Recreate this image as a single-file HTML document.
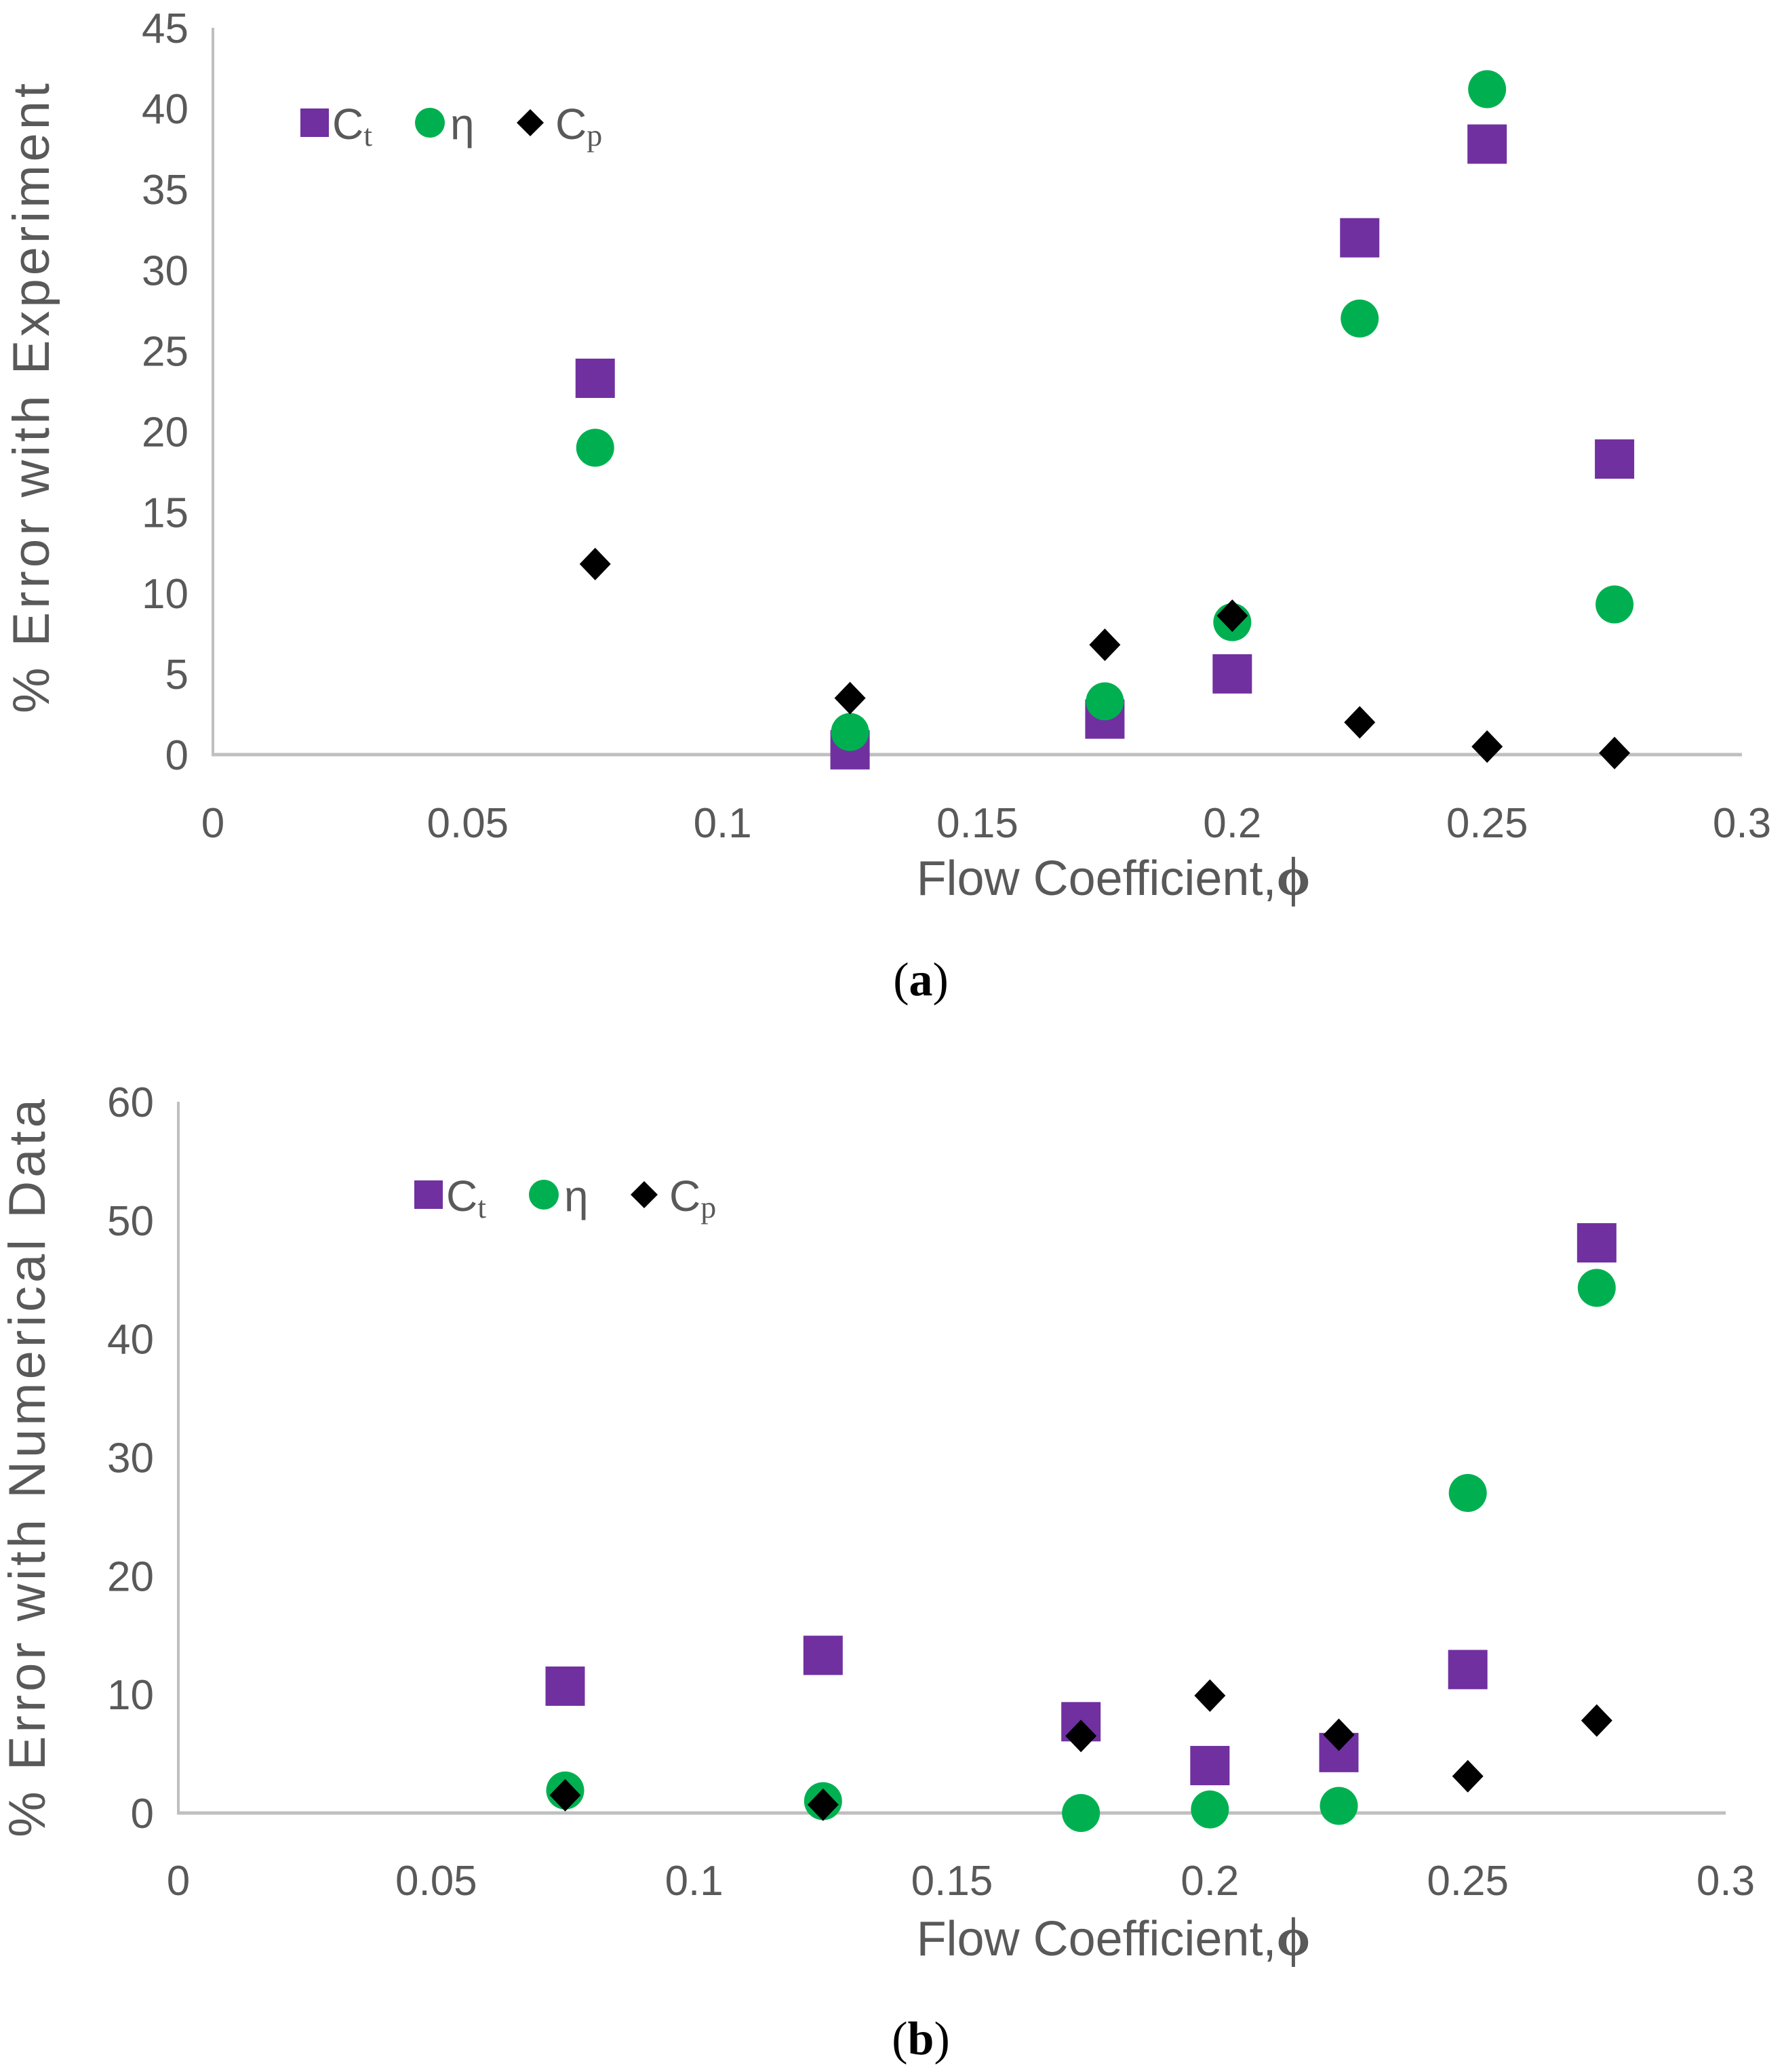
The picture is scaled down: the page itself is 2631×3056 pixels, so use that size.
<!DOCTYPE html>
<html><head><meta charset="utf-8">
<style>
html,body{margin:0;padding:0;background:#fff;}
svg{display:block;}
text{font-family:"Liberation Sans",sans-serif;}
</style></head>
<body>
<svg id="svg" width="2631" height="3056" viewBox="0 0 2631 3056" xmlns="http://www.w3.org/2000/svg"></svg>
<script>
const xCats = [0.075, 0.125, 0.175, 0.2, 0.225, 0.25, 0.275];
const xTicks = [0, 0.05, 0.1, 0.15, 0.2, 0.25, 0.3];
const xTickLabels = ["0","0.05","0.1","0.15","0.2","0.25","0.3"];
const aYTicks = [0,5,10,15,20,25,30,35,40,45];
const aCt = [23.3, 0.3, 2.2, 5.0, 32.0, 37.8, 18.3];
const aEta = [19.0, 1.4, 3.3, 8.2, 27.0, 41.2, 9.3];
const aCp = [11.8, 3.5, 6.8, 8.6, 2.0, 0.5, 0.1];
const bYTicks = [0,10,20,30,40,50,60];
const bCt = [10.7, 13.3, 7.7, 4.0, 5.1, 12.1, 48.1];
const bEta = [1.9, 1.0, 0.0, 0.3, 0.6, 27.0, 44.3];
const bCp = [1.5, 0.7, 6.5, 9.9, 6.6, 3.1, 7.8];

const NS = "http://www.w3.org/2000/svg";
const svg = document.getElementById('svg');
function mk(tag, attrs, parent, txt){
  const e = document.createElementNS(NS, tag);
  for (const k in attrs) e.setAttribute(k, attrs[k]);
  if (txt !== undefined) e.textContent = txt;
  (parent||svg).appendChild(e);
  return e;
}
const PURPLE="#7030A0", GREEN="#00B050";

function chart(cfg){
  const g = mk('g', {});
  
  
  const sx = v => cfg.x0 + (v/0.3)*(cfg.x1-cfg.x0);
  const sy = v => cfg.y0 - (v/cfg.ymax)*(cfg.y0-cfg.y1);
  const ya = mk('line',{x1:cfg.x0,y1:cfg.y1,x2:cfg.x0,y2:cfg.y0,stroke:"#BFBFBF","stroke-width":4},g);
  
  
  const xa = mk('line',{x1:cfg.x0-2,y1:cfg.y0,x2:cfg.x1,y2:cfg.y0,stroke:"#BFBFBF","stroke-width":5},g);
  
  
  cfg.yTicks.forEach(v=>{
    const t = mk('text',{x:cfg.x0-36,y:sy(v)+22,"text-anchor":"end","font-size":62,fill:"#595959"},g,String(v));
    
    
  });
  xTicks.forEach((v,i)=>{
    const t = mk('text',{x:sx(v),y:cfg.xLabY,"text-anchor":"middle","font-size":62,fill:"#595959"},g,xTickLabels[i]);
    
    
  });
  const xt = mk('text',{x:1642,y:cfg.xTitleY,"text-anchor":"middle","font-size":72,fill:"#595959"},g,"Flow Coefficient,");
  
  
  mk('tspan',{"font-weight":"bold","font-family":"Liberation Serif, serif","font-size":80},xt,"ϕ");
  const yt = mk('text',{x:0,y:0,"text-anchor":"middle","font-size":76,"letter-spacing":5,fill:"#595959",transform:`translate(${cfg.yTitleX},${cfg.yTitleY}) rotate(-90)`},g,cfg.yTitle);
  
  
  const cap = mk('text',{x:1358,y:cfg.capY,"text-anchor":"middle","font-size":70,"font-family":"Liberation Serif, serif",fill:"#000"},g);
  
  
  mk('tspan',{"font-family":"Liberation Serif, serif"},cap,"(");
  mk('tspan',{"font-weight":"bold","font-family":"Liberation Serif, serif"},cap,cfg.cap);
  mk('tspan',{"font-family":"Liberation Serif, serif"},cap,")");
  cfg.ct.forEach((v,i)=>{
    const s = mk('rect',{x:sx(xCats[i])-29,y:sy(v)-29,width:58,height:58,fill:PURPLE},g);
    
    
  });
  cfg.eta.forEach((v,i)=>{
    const s = mk('circle',{cx:sx(xCats[i]),cy:sy(v),r:28,fill:GREEN},g);
    
    
  });
  cfg.cp.forEach((v,i)=>{
    const cx=sx(xCats[i]), cy=sy(v);
    const s = mk('polygon',{points:`${cx},${cy-24} ${cx+23},${cy} ${cx},${cy+24} ${cx-23},${cy}`,fill:"#000"},g);
    
    
  });
  const L = mk('g',{},g);
  
  
  const lx=cfg.legX, ly=cfg.legY;
  mk('rect',{x:lx-21,y:ly-21,width:42,height:42,fill:PURPLE},L);
  const t1=mk('text',{x:lx+26,y:ly+24,"font-size":64,fill:"#595959"},L,"C");
  mk('tspan',{"font-size":46,"font-family":"Liberation Serif, serif",dy:10},t1,"t");
  mk('circle',{cx:lx+170,cy:ly,r:22,fill:GREEN},L);
  mk('text',{x:lx+200,y:ly+24,"font-size":64,fill:"#595959"},L,"η");
  mk('polygon',{points:`${lx+318},${ly-20} ${lx+338},${ly} ${lx+318},${ly+20} ${lx+298},${ly}`,fill:"#000"},L);
  const t3=mk('text',{x:lx+355,y:ly+24,"font-size":64,fill:"#595959"},L,"C");
  mk('tspan',{"font-size":46,"font-family":"Liberation Serif, serif",dy:10},t3,"p");
}

chart({name:'chart-a', x0:314, x1:2569, y0:1113, y1:41, ymax:45, yTicks:aYTicks,
  ct:aCt, eta:aEta, cp:aCp, xLabY:1235, xTitleY:1320, yTitleX:72, yTitleY:585,
  yTitle:"% Error with Experiment", capY:1468, cap:"a", legX:464, legY:181});
chart({name:'chart-b', x0:263, x1:2545, y0:2674, y1:1625, ymax:60, yTicks:bYTicks,
  ct:bCt, eta:bEta, cp:bCp, xLabY:2795, xTitleY:2884, yTitleX:66, yTitleY:2163,
  yTitle:"% Error with Numerical Data", capY:3030, cap:"b", legX:632, legY:1762});
</script>
</body></html>
